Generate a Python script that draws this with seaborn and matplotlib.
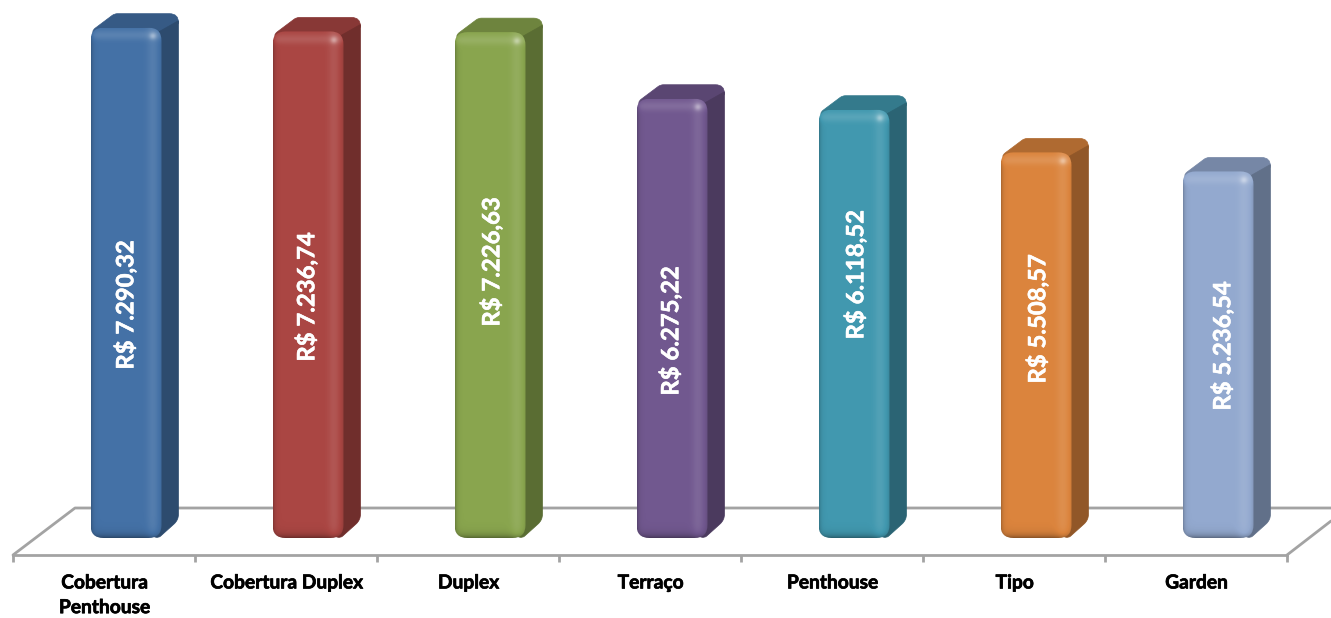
import numpy as np
import seaborn as sns
import matplotlib.pyplot as plt
import matplotlib.patheffects as pe
from matplotlib.patches import FancyBboxPatch, PathPatch
from matplotlib.path import Path
from matplotlib.colors import to_rgb

# Dados do grafico
tipos = ['Cobertura\nPenthouse', 'Cobertura Duplex', 'Duplex', 'Terraço', 'Penthouse', 'Tipo', 'Garden']
valores = [7290.32, 7236.74, 7226.63, 6275.22, 6118.52, 5508.57, 5236.54]
cores = ['#4471A6', '#AA4643', '#89A54E', '#71588F', '#4198AF', '#DB843D', '#93A9CF']

# Posicao dos rotulos dentro das barras, em pixels da imagem
rotulo_x = [125, 306, 491, 670, 855, 1037, 1222]
rotulo_y = [305, 297, 262, 331, 275, 319, 346]

W, H = 1331, 618
BASE = 538      # linha de base das barras (pixels)
ESCALA = 0.07   # pixels por R$
X0 = 126.0      # centro da primeira barra
PASSO = 182.0
LARGURA = 71.0


def to_x(px):
    return (px - X0) / PASSO


def to_y(py):
    return (BASE - py) / ESCALA


def poligono(pontos, cor, z):
    # poligono com cantos arredondados: (x, y, raio) em pixels
    verts, codes = [], []
    n = len(pontos)
    for i, (a, b, r) in enumerate(pontos):
        p = np.array([a, b], float)
        ant = np.array(pontos[i - 1][:2], float)
        prox = np.array(pontos[(i + 1) % n][:2], float)
        e = p + (ant - p) / np.linalg.norm(ant - p) * r
        s = p + (prox - p) / np.linalg.norm(prox - p) * r
        verts += [e, p, s]
        codes += [Path.MOVETO if i == 0 else Path.LINETO, Path.CURVE3, Path.CURVE3]
    verts.append(verts[0])
    codes.append(Path.CLOSEPOLY)
    xy = [(to_x(v[0]), to_y(v[1])) for v in verts]
    ax.add_patch(PathPatch(Path(xy, codes), facecolor=cor, edgecolor=cor, lw=0.5, zorder=z))


def escurece(cor, f):
    return tuple(c * f for c in to_rgb(cor))


def sombreamento(w, h):
    # brilho e sombra da face frontal
    xs = np.arange(w) + 0.5
    ys = np.arange(h) + 0.5
    xx, yy = np.meshgrid(xs, ys)
    luz = 0.09 * np.exp(-((xx - w + 10) / 6) ** 2)
    luz = luz + 0.12 * np.exp(-((yy - 8) / 5) ** 2)
    luz = luz + 0.30 * np.exp(-((xx - w + 10) / 3.5) ** 2 - ((yy - 9) / 3.5) ** 2)
    sombra = 0.25 * np.exp(-xx / 2.0) + 0.15 * np.exp(-(w - xx) / 2.5)
    sombra = sombra + 0.40 * np.exp(-(h - yy) / 3.5)
    total = luz - sombra
    img = np.zeros((h, w, 4))
    img[..., :3] = (total > 0)[..., None].astype(float)
    img[..., 3] = np.clip(np.abs(total), 0, 1)
    return img


sns.set_theme(style='white')
plt.rcParams['font.family'] = ['Lato', 'DejaVu Sans']

fig = plt.figure(figsize=(W / 100, H / 100), dpi=100)
ax = fig.add_axes([0, 0, 1, 1])

sns.barplot(x=list(range(len(tipos))), y=valores, hue=list(range(len(tipos))), palette=cores,
            width=LARGURA / PASSO, legend=False, saturation=1, linewidth=0, ax=ax, zorder=3)

# Piso em perspectiva
CINZA = '#A3A3A3'
ax.plot([to_x(13), to_x(75), to_x(W)], [to_y(555), to_y(508), to_y(508)], color=CINZA, lw=2, zorder=1)
ax.plot([to_x(1287), to_x(W)], [to_y(555), to_y(521)], color=CINZA, lw=2, zorder=1)

# Barras com aparencia 3D
for barra, cor in zip(ax.patches, cores):
    x0 = X0 + barra.get_x() * PASSO
    x1 = x0 + LARGURA
    t = BASE - barra.get_height() * ESCALA
    b = BASE
    # topo
    poligono([(x0, t + 4, 6), (x0 + 24, t - 14, 3), (x1 + 17, t - 14, 9),
              (x1 + 17, t - 4, 1), (x1 - 4, t + 6, 1), (x0 + 8, t + 12, 1)], escurece(cor, 0.8), 2)
    # lateral
    poligono([(x1 - 6, t + 6, 1), (x1 + 17, t - 7, 1), (x1 + 17, b - 18, 6),
              (x1 - 3, b, 3), (x1 - 10, b - 2, 1)], escurece(cor, 0.66), 2)
    # face frontal arredondada
    forma = FancyBboxPatch((to_x(x0), 0), LARGURA / PASSO, barra.get_height(),
                           boxstyle='round,pad=0,rounding_size=%f' % (13 / PASSO),
                           mutation_aspect=(1 / ESCALA) / (1 / PASSO),
                           facecolor='none', edgecolor='none', zorder=3)
    ax.add_patch(forma)
    barra.set_clip_path(forma)
    im = ax.imshow(sombreamento(int(LARGURA), int(b - t)),
                   extent=[to_x(x0), to_x(x1), to_y(b), to_y(t)], aspect='auto', zorder=4)
    im.set_clip_path(forma)

# Rotulos de valor
for v, rx, ry in zip(valores, rotulo_x, rotulo_y):
    txt = 'R$ ' + f'{v:,.2f}'.replace(',', 'X').replace('.', ',').replace('X', '.')
    ax.text(to_x(rx), to_y(ry), txt, rotation=90, ha='center', va='center', color='white',
            fontsize=17.2, fontweight='bold', zorder=5,
            path_effects=[pe.withStroke(linewidth=0.4, foreground='white')])

ax.set_xlim(to_x(0), to_x(W))
ax.set_ylim(to_y(H), to_y(0))

# Eixo X: limites das categorias e nomes
limites = [to_x(13 + PASSO * i) for i in range(len(tipos) + 1)]
centros = [to_x(104.5 + PASSO * i) for i in range(len(tipos))]
for lado in ['top', 'left', 'right']:
    ax.spines[lado].set_visible(False)
ax.spines['bottom'].set_position(('data', to_y(555)))
ax.spines['bottom'].set_bounds(limites[0], limites[-1])
ax.spines['bottom'].set_color(CINZA)
ax.spines['bottom'].set_linewidth(2)
ax.set_yticks([])
ax.set_xticks(limites)
ax.set_xticklabels([])
ax.tick_params(axis='x', which='major', bottom=True, length=5, width=2, color=CINZA)
ax.set_xticks(centros, minor=True)
ax.set_xticklabels(tipos, minor=True, fontsize=13.8, fontweight='bold', color='black', linespacing=1.55,
                   path_effects=[pe.withStroke(linewidth=0.5, foreground='black')])
ax.tick_params(axis='x', which='minor', length=0, pad=14)
ax.set_xlabel('')
ax.set_ylabel('')

fig.savefig('out.png', dpi=100)
